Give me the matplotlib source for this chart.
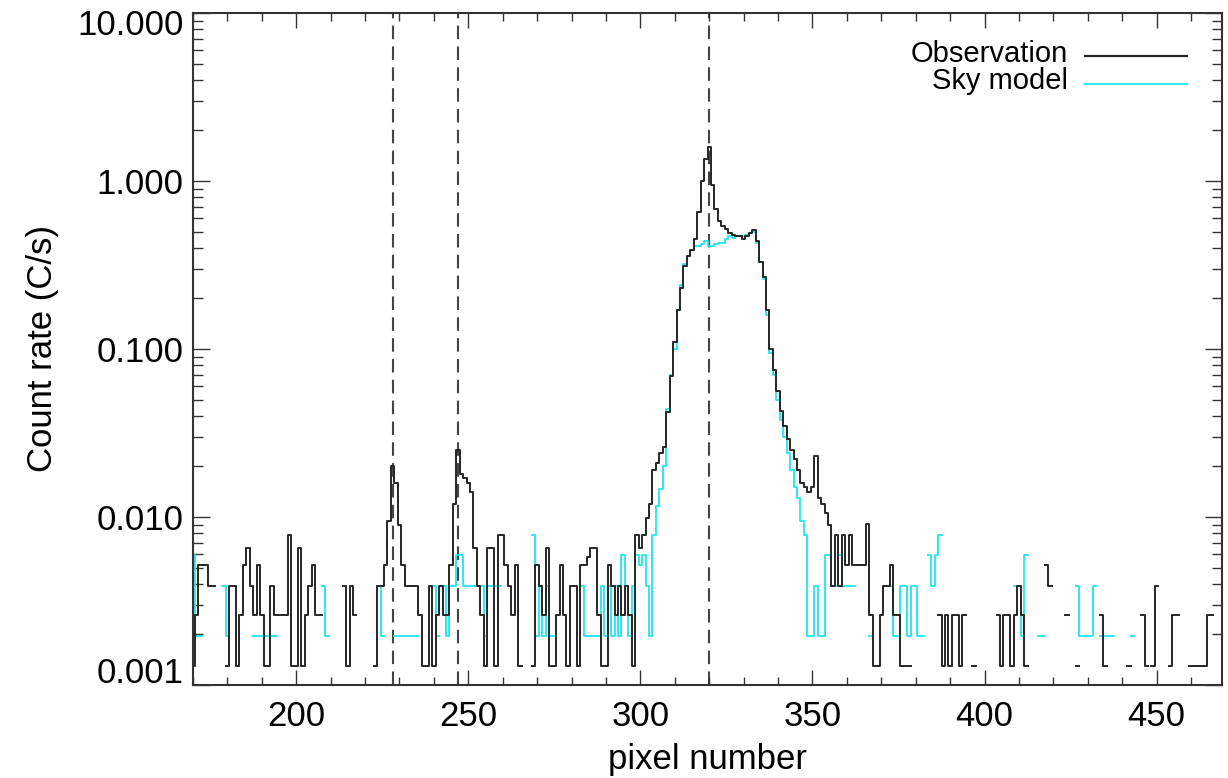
import numpy as np
import matplotlib
matplotlib.use("Agg")
import matplotlib.pyplot as plt
from matplotlib.ticker import MultipleLocator, LogLocator, FuncFormatter, NullFormatter
from matplotlib.transforms import ScaledTranslation

# ---------------- data ----------------
pixel_first = 170
pixel_last = 470

# Observation count rate (C/s), one value per pixel 170..470 ; 0 = no counts
obs_rate = [
    0.0013, 0.0026, 0.0052, 0.0052, 0.0052, 0.0039, 0.0039, 0, 0, 0,              # 170
    0.0013, 0.0039, 0.0039, 0.0013, 0.0026, 0.0052, 0.0065, 0.0039, 0.0026, 0.0052,  # 180
    0.0026, 0.0013, 0.0013, 0.0039, 0.0026, 0.0026, 0.0026, 0.0026, 0.0078, 0.0013,  # 190
    0.0013, 0.0065, 0.0013, 0.0026, 0.0039, 0.0052, 0.0026, 0.0026, 0, 0,          # 200
    0, 0, 0, 0, 0.0039, 0.0013, 0.0039, 0.0026, 0, 0,                              # 210
    0, 0, 0, 0.0013, 0.0039, 0.0039, 0.0052, 0.0095, 0.020, 0.016,                 # 220
    0.009, 0.0052, 0.0039, 0.0039, 0.0039, 0.0039, 0.0026, 0.0013, 0.0013, 0.0039,   # 230
    0.0013, 0.0026, 0.0039, 0.0026, 0.0026, 0.0052, 0.012, 0.025, 0.018, 0.017,      # 240
    0.016, 0.014, 0.0065, 0.0039, 0.0026, 0.0013, 0.0065, 0.0065, 0.0013, 0.0078,    # 250
    0.0078, 0.0052, 0.0039, 0.0026, 0.0052, 0.0013, 0, 0, 0, 0.0013,               # 260
    0.0052, 0.0039, 0.0026, 0.0065, 0.0013, 0.0013, 0.0026, 0.0052, 0.0026, 0.0013,  # 270
    0.0039, 0.0039, 0.0013, 0.0052, 0.0052, 0.0058, 0.0065, 0.0065, 0.0026, 0.0013,  # 280
    0.0013, 0.0052, 0.0039, 0.0026, 0.0039, 0.0026, 0.0039, 0.0026, 0.0013, 0.0078,  # 290
    0.0065, 0.0078, 0.0098, 0.012, 0.019, 0.021, 0.024, 0.026, 0.042, 0.069,         # 300
    0.11, 0.17, 0.23, 0.31, 0.36, 0.39, 0.45, 0.65, 1.0, 1.35,                       # 310
    1.6, 0.95, 0.68, 0.58, 0.54, 0.52, 0.49, 0.48, 0.47, 0.47,                       # 320
    0.45, 0.47, 0.49, 0.51, 0.44, 0.33, 0.27, 0.17, 0.10, 0.075,                     # 330
    0.056, 0.043, 0.035, 0.029, 0.025, 0.022, 0.019, 0.016, 0.015, 0.014,            # 340
    0.015, 0.023, 0.013, 0.012, 0.0105, 0.009, 0.0039, 0.0078, 0.0039, 0.0078,       # 350
    0.0052, 0.0078, 0.0052, 0.0052, 0.0052, 0.0052, 0.0091, 0.0026, 0.0013, 0.0013,  # 360
    0.0026, 0.0039, 0.0039, 0.0052, 0.0026, 0.0026, 0.0013, 0.0013, 0.0013, 0,      # 370
    0, 0, 0, 0, 0, 0, 0, 0.0026, 0.0013, 0.0026,                                   # 380
    0.0013, 0.0026, 0.0026, 0.0013, 0.0026, 0, 0, 0.0013, 0, 0,                    # 390
    0, 0, 0, 0, 0.0026, 0.0013, 0.0026, 0.0026, 0.0013, 0.0026,                    # 400
    0.0039, 0.0026, 0.0013, 0, 0, 0, 0, 0, 0.0052, 0.0039,                         # 410
    0, 0, 0, 0, 0.0026, 0, 0, 0.0013, 0, 0,                                        # 420
    0, 0, 0, 0, 0.0026, 0.0013, 0, 0, 0, 0,                                        # 430
    0, 0, 0.0013, 0, 0, 0, 0.0026, 0.0013, 0, 0.0013,                              # 440
    0.0039, 0, 0, 0, 0.0013, 0.0026, 0.0026, 0, 0, 0,                              # 450
    0.0013, 0.0013, 0.0013, 0.0013, 0.0013, 0.0026, 0.0026, 0, 0, 0,               # 460
    0,                                                                             # 470
]

# Sky model count rate (C/s), one value per pixel 170..470 ; 0 = no counts
sky_rate = [
    0.0059, 0.00195, 0.00195, 0, 0, 0, 0, 0, 0, 0.0039,                            # 170
    0.00195, 0, 0, 0, 0, 0, 0, 0, 0.00195, 0.00195,                                # 180
    0.00195, 0.00195, 0.00195, 0.00195, 0.00195, 0, 0, 0, 0, 0,                    # 190
    0, 0, 0, 0, 0, 0, 0, 0, 0.0039, 0.00195,                                       # 200
    0, 0, 0, 0, 0, 0, 0, 0, 0, 0,                                                  # 210
    0, 0, 0, 0, 0.0039, 0.00195, 0, 0, 0, 0.00195,                                 # 220
    0.00195, 0.00195, 0.00195, 0.00195, 0.00195, 0.00195, 0, 0, 0, 0,              # 230
    0.0039, 0.00195, 0, 0.0039, 0.00195, 0.0039, 0.0039, 0.0059, 0.0059, 0.0039,     # 240
    0.0039, 0.0039, 0.0039, 0.0039, 0.0039, 0.00195, 0.0039, 0.0039, 0.0039, 0.0039, # 250
    0, 0, 0, 0, 0, 0, 0, 0, 0, 0.0078,                                             # 260
    0.00195, 0.0039, 0.00195, 0.0039, 0.00195, 0.00195, 0, 0, 0, 0,                # 270
    0, 0, 0, 0.0039, 0.00195, 0.00195, 0.00195, 0.00195, 0.00195, 0.0039,          # 280
    0.00195, 0.0039, 0.00195, 0.0039, 0.00195, 0.0059, 0.0039, 0.00195, 0.0039, 0.0059, # 290
    0.0052, 0.0059, 0.0039, 0.00195, 0.0078, 0.0117, 0.0146, 0.020, 0.044, 0.070,    # 300
    0.10, 0.17, 0.24, 0.32, 0.36, 0.39, 0.41, 0.41, 0.42, 0.44,                      # 310
    0.41, 0.41, 0.42, 0.43, 0.43, 0.45, 0.47, 0.46, 0.47, 0.47,                      # 320
    0.47, 0.48, 0.49, 0.50, 0.43, 0.33, 0.26, 0.16, 0.095, 0.070,                    # 330
    0.050, 0.038, 0.030, 0.024, 0.019, 0.015, 0.013, 0.0095, 0.0078, 0.00195,        # 340
    0.00195, 0.0039, 0.00195, 0.00195, 0.0059, 0.0059, 0.0039, 0.0039, 0.0059, 0.0039, # 350
    0.0039, 0.0039, 0.0039, 0, 0, 0, 0, 0.00195, 0, 0,                             # 360
    0, 0, 0.0039, 0.0039, 0.00195, 0.00195, 0.0039, 0.0039, 0.00195, 0.0039,       # 370
    0.0039, 0.00195, 0.00195, 0, 0.0059, 0.0039, 0.0059, 0.0078, 0, 0,             # 380
    0, 0, 0, 0, 0, 0, 0, 0, 0, 0,                                                  # 390
    0, 0, 0, 0, 0, 0, 0, 0, 0, 0.0039,                                             # 400
    0.0039, 0.00195, 0.0059, 0, 0, 0, 0.00195, 0.00195, 0, 0,                      # 410
    0, 0, 0, 0, 0, 0, 0, 0.0039, 0.00195, 0.00195,                                 # 420
    0.00195, 0.00195, 0.0039, 0, 0.00195, 0.00195, 0.00195, 0.00195, 0, 0,         # 430
    0, 0, 0, 0.00195, 0, 0, 0, 0, 0, 0,                                            # 440
    0, 0, 0, 0, 0, 0, 0, 0, 0, 0,                                                  # 450
    0, 0, 0, 0, 0, 0, 0, 0, 0, 0,                                                  # 460
    0,                                                                             # 470
]

line_pixels = [228, 247, 320]
x_limits = (170, 469)
y_limits = (0.001, 10.0)
series_labels = ["Observation", "Sky model"]
x_label = "pixel number"
y_label = "Count rate (C/s)"

# ---------------- style ----------------
plt.rcParams['font.family'] = ['Liberation Sans', 'DejaVu Sans']
obs_color = '#262626'
sky_color = '#1ee6f0'
dash_color = '#444444'

pixels = np.arange(pixel_first, pixel_last + 1)
obs = np.array(obs_rate, dtype=float)
sky = np.array(sky_rate, dtype=float)
obs[obs <= 0] = np.nan
sky[sky <= 0] = np.nan

fig = plt.figure(figsize=(12.28, 7.78), dpi=100)
ax = fig.add_axes([193/1228, 1 - 685/778, (1222-193)/1228, (685-13)/778])

for xp in line_pixels:
    ax.axvline(xp, color=dash_color, lw=1.5, ls=(0, (6.5, 3.5)), zorder=1)

ax.plot(pixels, sky, drawstyle='steps-mid', color=sky_color, lw=1.3, zorder=2)
ax.plot(pixels, obs, drawstyle='steps-mid', color=obs_color, lw=1.4, zorder=3)

ax.set_yscale('log')
ax.set_xlim(*x_limits)
ax.set_ylim(*y_limits)

ax.xaxis.set_major_locator(MultipleLocator(50))
ax.xaxis.set_minor_locator(MultipleLocator(10))
ax.yaxis.set_major_locator(LogLocator(base=10, numticks=10))
ax.yaxis.set_minor_locator(LogLocator(base=10, subs=np.arange(2, 10), numticks=20))
ax.yaxis.set_major_formatter(FuncFormatter(lambda v, p: f"{v:.3f}"))
ax.yaxis.set_minor_formatter(NullFormatter())

ax.tick_params(which='both', direction='in', top=True, right=True,
               width=1.0, color='#333333', labelsize=25)
ax.tick_params(axis='x', which='major', length=11, pad=11)
ax.tick_params(axis='x', which='minor', length=5.5)
ax.tick_params(axis='y', which='major', length=12, pad=7)
ax.tick_params(axis='y', which='minor', length=7)
for s in ax.spines.values():
    s.set_linewidth(1.5)
    s.set_color('#333333')

ax.set_xlabel(x_label, fontsize=25)
ax.set_ylabel(y_label, fontsize=25)
ax.xaxis.set_label_coords(0.5, -0.086)
ax.yaxis.set_label_coords(-0.130, 0.5)

fig.canvas.draw()
labels = ax.yaxis.get_majorticklabels()
locs = ax.yaxis.get_majorticklocs()
for lab, loc in zip(labels, locs):
    if abs(loc - y_limits[0]) < 1e-9:
        lab.set_transform(lab.get_transform() + ScaledTranslation(0, 15/100, fig.dpi_scale_trans))
    elif abs(loc - y_limits[1]) < 1e-9:
        lab.set_transform(lab.get_transform() + ScaledTranslation(0, -9/100, fig.dpi_scale_trans))

# legend (right-aligned text with line sample)
leg_y = [0.944, 0.903]
for lab, col, yy in zip(series_labels, [obs_color, sky_color], leg_y):
    ax.text(0.850, yy, lab, transform=ax.transAxes, ha='right', va='center_baseline',
            fontsize=21)
    ax.plot([0.867, 0.966], [yy - 0.008, yy - 0.008], transform=ax.transAxes,
            color=col, lw=1.6 if col == obs_color else 1.3)

fig.savefig('out.png', dpi=100)
